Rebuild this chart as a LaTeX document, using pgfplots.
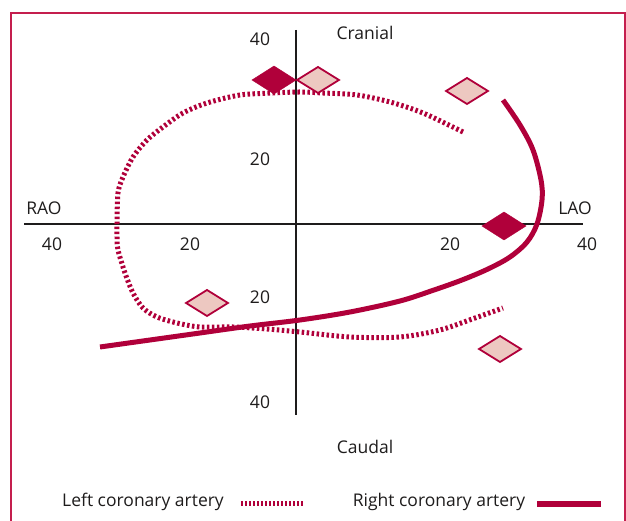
\documentclass[border=0pt]{standalone}
\usepackage{fontspec}
\setmainfont{Open Sans}
\usepackage{pgfplots}
\pgfplotsset{compat=1.18}
\definecolor{crim}{RGB}{176,0,58}
\definecolor{framec}{RGB}{196,30,78}
\definecolor{pinkf}{RGB}{237,200,193}
\definecolor{axc}{RGB}{30,28,28}
\tikzset{lab/.style={anchor=base, font=\fontsize{17.5}{20}\selectfont, text=axc, inner sep=0pt}}
\begin{document}
\begin{tikzpicture}
\useasboundingbox (0,0) rectangle (626pt,521pt);
\begin{axis}[at={(0,0)}, anchor=south west, scale only axis,
  width=626pt, height=521pt,
  xmin=-296, xmax=330, ymin=-297, ymax=224,
  hide axis, clip=false]
% frame
\addplot[framec, line width=2pt] coordinates {(-285,-320) (-285,211) (329,211) (329,-320)};
% diamonds
\addplot[only marks, mark=diamond*, mark size=14pt,
  mark options={xscale=2.1, fill=crim, draw=crim}] coordinates {(-22,144) (208,-2)};
\addplot[only marks, mark=diamond*, mark size=13pt,
  mark options={xscale=2.15, fill=pinkf, draw=crim, line width=1.8pt}]
  coordinates {(22,144) (171,133) (-89,-79) (204,-125)};
% axis lines
\addplot[axc, line width=2.5pt] coordinates {(-272,0) (287,0)};
\addplot[axc, line width=2.5pt] coordinates {(0,194) (0,-191)};
% left coronary artery (dotted)
\addplot[crim, line width=5pt, dash pattern=on 2.5pt off 2.5pt, smooth, tension=0.5] coordinates {
(167,92) (127,111) (94,122) (61,129) (27,131) (4,132) (-23,131) (-56,129) (-89,121)
(-113,111) (-133,97) (-149,84) (-163,67) (-173,47) (-178,31) (-179,1) (-179,-13)
(-178,-26) (-171,-49) (-163,-69) (-153,-84) (-139,-93) (-119,-99) (-96,-103)
(-63,-103) (-29,-105) (4,-108) (54,-113) (104,-113) (144,-106) (179,-94) (207,-84)};
% right coronary artery (solid)
\addplot[crim, line width=5pt, smooth, tension=0.55] coordinates {
(207,124) (224,99) (237,74) (245,44) (246,24) (241,0) (231,-18) (214,-33) (192,-45)
(166,-56) (138,-66) (104,-77) (54,-88) (4,-96) (-46,-102) (-96,-109) (-146,-116) (-196,-123)};
% legend samples
\addplot[crim, line width=5pt, dash pattern=on 2pt off 2pt] coordinates {(-55,-280) (8,-280)};
\addplot[crim, line width=6pt] coordinates {(241,-280) (305,-280)};
% texts
\node[lab] at (69,184) {Cranial};
\node[lab] at (69,-230) {Caudal};
\node[lab] at (-252,9) {RAO};
\node[lab] at (279,9) {LAO};
\node[lab] at (-36,178) {40};
\node[lab] at (-36,58) {20};
\node[lab] at (-36,-80) {20};
\node[lab] at (-36,-185) {40};
\node[lab] at (-244,-27) {40};
\node[lab] at (-106,-27) {20};
\node[lab] at (154,-27) {20};
\node[lab] at (291,-27) {40};
\node[lab] at (-153,-283) {Left coronary artery};
\node[lab] at (143,-283) {Right coronary artery};
\end{axis}
\end{tikzpicture}
\end{document}
